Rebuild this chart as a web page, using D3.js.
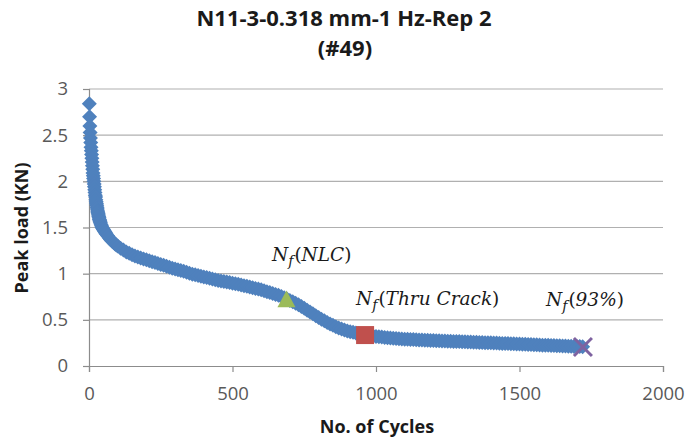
<!DOCTYPE html>
<html>
<head>
<meta charset="utf-8">
<script src="https://cdn.jsdelivr.net/npm/d3@7"></script>
<style>
  html, body { margin: 0; padding: 0; background: #fff; }
  svg { display: block; }
</style>
</head>
<body>
<svg id="chart" width="689" height="444"></svg>
<script>
// Cycle numbers of the sampled peak loads
const cycles = [
  1, 2, 3, 4, 5, 6, 7, 8, 9, 10, 11, 12, 13, 14, 15, 16, 17, 18, 19, 20,
  21, 22, 23, 24, 25, 26, 27, 28, 29, 30, 31, 32, 33, 34, 35, 36, 37, 38, 39, 40,
  42, 44, 46, 48, 50, 52, 54, 56, 58, 60, 65, 70, 75, 80, 85, 90, 95, 100,
  110, 120, 130, 140, 150, 160, 170, 180, 190, 200, 210, 220, 230, 240, 250, 260,
  270, 280, 290, 300, 310, 320, 330, 340, 350, 360, 370, 380, 390, 400, 410, 420,
  430, 440, 450, 460, 470, 480, 490, 500, 510, 520, 530, 540, 550, 560, 570, 580,
  590, 600, 610, 620, 630, 640, 650, 660, 670, 680, 690, 700, 710, 720, 730, 740,
  750, 760, 770, 780, 790, 800, 810, 820, 830, 840, 850, 860, 870, 880, 890, 900,
  910, 920, 930, 940, 950, 960, 970, 980, 990, 1000, 1010, 1020, 1030, 1040, 1050, 1060,
  1070, 1080, 1090, 1100, 1110, 1120, 1130, 1140, 1150, 1160, 1170, 1180, 1190, 1200,
  1210, 1220, 1230, 1240, 1250, 1260, 1270, 1280, 1290, 1300, 1310, 1320, 1330, 1340,
  1350, 1360, 1370, 1380, 1390, 1400, 1410, 1420, 1430, 1440, 1450, 1460, 1470, 1480,
  1490, 1500, 1510, 1520, 1530, 1540, 1550, 1560, 1570, 1580, 1590, 1600, 1610, 1620,
  1630, 1640, 1650, 1660, 1670, 1680, 1690, 1700, 1710, 1720
];
// Peak load (KN) at each sampled cycle
const peakLoad = [
  2.84, 2.70, 2.60, 2.53, 2.47, 2.42, 2.37, 2.33, 2.29, 2.25, 2.21, 2.17, 2.13, 2.09, 2.06, 2.03, 2.00, 1.97, 1.94, 1.91,
  1.88, 1.85, 1.83, 1.80, 1.78, 1.76, 1.74, 1.72, 1.70, 1.68, 1.665, 1.65, 1.635, 1.62, 1.605, 1.59, 1.58, 1.57, 1.56, 1.55,
  1.53, 1.515, 1.50, 1.49, 1.48, 1.47, 1.46, 1.45, 1.44, 1.43, 1.41, 1.39, 1.37, 1.355, 1.34, 1.325, 1.31, 1.30,
  1.275, 1.255, 1.235, 1.22, 1.205, 1.19, 1.18, 1.17, 1.16, 1.15, 1.14, 1.13, 1.12, 1.11, 1.10, 1.09,
  1.08, 1.07, 1.06, 1.05, 1.043, 1.035, 1.025, 1.015, 1.005, 0.995, 0.988, 0.98, 0.972, 0.965, 0.958, 0.95,
  0.943, 0.935, 0.927, 0.92, 0.915, 0.91, 0.903, 0.895, 0.89, 0.885, 0.878, 0.87, 0.863, 0.855, 0.848, 0.84,
  0.833, 0.825, 0.815, 0.805, 0.795, 0.785, 0.775, 0.765, 0.753, 0.74, 0.725, 0.71, 0.695, 0.68, 0.663, 0.645,
  0.625, 0.605, 0.585, 0.565, 0.545, 0.525, 0.507, 0.49, 0.472, 0.455, 0.44, 0.425, 0.412, 0.40, 0.39, 0.38,
  0.372, 0.365, 0.357, 0.35, 0.344, 0.338, 0.333, 0.328, 0.324, 0.32, 0.316, 0.313, 0.31, 0.307, 0.304, 0.301,
  0.298, 0.296, 0.293, 0.291, 0.289, 0.287, 0.286, 0.284, 0.282, 0.281, 0.279, 0.278, 0.276, 0.275,
  0.274, 0.273, 0.271, 0.27, 0.269, 0.268, 0.266, 0.265, 0.264, 0.263, 0.262, 0.26, 0.259, 0.258,
  0.257, 0.255, 0.254, 0.253, 0.252, 0.251, 0.249, 0.248, 0.247, 0.245, 0.244, 0.243, 0.241, 0.24,
  0.239, 0.237, 0.236, 0.235, 0.233, 0.232, 0.231, 0.229, 0.228, 0.226, 0.225, 0.224, 0.222, 0.221,
  0.22, 0.218, 0.217, 0.216, 0.215, 0.213, 0.212, 0.211, 0.21, 0.209
];

// Failure criteria points
const nlcPoint = { cycle: 688, load: 0.72 };
const thruCrackPoint = { cycle: 962, load: 0.335 };
const pct93Point = { cycle: 1721, load: 0.206 };

const xTicks = [0, 500, 1000, 1500, 2000];
const yTicks = [0, 0.5, 1, 1.5, 2, 2.5, 3];

const svg = d3.select("#chart");
const x = d3.scaleLinear().domain([0, 2000]).range([89, 663]);
const y = d3.scaleLinear().domain([0, 3]).range([366, 89]);

const axisColor = "#8c8c8c";
const gridColor = "#b0b0b0";
const textColor = "#595959";
const labelFont = "'Open Sans', 'Liberation Sans', Arial, sans-serif";

// horizontal gridlines
svg.append("g").selectAll("line")
  .data(yTicks.filter(d => d > 0))
  .join("line")
  .attr("x1", x(0)).attr("x2", x(2000))
  .attr("y1", d => y(d)).attr("y2", d => y(d))
  .attr("stroke", gridColor).attr("stroke-width", 1.2);

// y axis
const yAxis = svg.append("g")
  .attr("transform", `translate(${x(0)},0)`)
  .call(d3.axisLeft(y).tickValues(yTicks).tickSize(6).tickPadding(15)
    .tickFormat(d3.format("~g")));
yAxis.select(".domain").attr("stroke", axisColor).attr("stroke-width", 1.2);
yAxis.selectAll(".tick line").attr("stroke", axisColor).attr("stroke-width", 1.2);
yAxis.selectAll(".tick text")
  .attr("fill", textColor).style("font-size", "18.5px").style("font-family", labelFont);

// x axis
const xAxis = svg.append("g")
  .attr("transform", `translate(0,${y(0)})`)
  .call(d3.axisBottom(x).tickValues(xTicks).tickSize(6).tickPadding(15)
    .tickFormat(d3.format("d")));
xAxis.select(".domain").attr("stroke", axisColor).attr("stroke-width", 1.2);
xAxis.selectAll(".tick line").attr("stroke", axisColor).attr("stroke-width", 1.2);
xAxis.selectAll(".tick text")
  .attr("fill", textColor).style("font-size", "18.5px").style("font-family", labelFont);

// data series: diamond markers
const r = 7.5;
const diamond = `M0,${-r}L${r},0L0,${r}L${-r},0Z`;
svg.append("g").selectAll("path")
  .data(d3.zip(cycles, peakLoad))
  .join("path")
  .attr("d", diamond)
  .attr("transform", d => `translate(${x(d[0])},${y(d[1])})`)
  .attr("fill", "#4F81BD");

// NLC marker: triangle
const t = 9;
svg.append("path")
  .attr("d", `M0,${-t}L${t},${t * 0.85}L${-t},${t * 0.85}Z`)
  .attr("transform", `translate(${x(nlcPoint.cycle)},${y(nlcPoint.load)})`)
  .attr("fill", "#9BBB59");

// Through-crack marker: square
const s = 9;
svg.append("rect")
  .attr("x", x(thruCrackPoint.cycle) - s).attr("y", y(thruCrackPoint.load) - s)
  .attr("width", 2 * s).attr("height", 2 * s)
  .attr("fill", "#C0504D");

// 93% marker: cross
const c = 9;
svg.append("path")
  .attr("d", `M${-c},${-c}L${c},${c}M${-c},${c}L${c},${-c}`)
  .attr("transform", `translate(${x(pct93Point.cycle)},${y(pct93Point.load)})`)
  .attr("stroke", "#7E62A0").attr("stroke-width", 3).attr("fill", "none");

// annotation labels  N_f(...)
const mathFont = "'DejaVu Serif', 'Liberation Serif', serif";
function annot(px, py, inner) {
  const txt = svg.append("text")
    .attr("x", px).attr("y", py)
    .style("font-family", mathFont).style("font-size", "18.5px")
    .attr("fill", "#1a1a1a");
  txt.append("tspan").text("N").style("font-style", "italic");
  txt.append("tspan").text("f").style("font-style", "italic")
    .style("font-size", "14px").attr("dy", 5);
  txt.append("tspan").text("(").attr("dy", -5).attr("dx", 1);
  txt.append("tspan").text(inner).style("font-style", "italic");
  txt.append("tspan").text(")");
}
annot(272, 261, "NLC");
annot(356, 305, "Thru Crack");
annot(546, 306, "93%");

// titles
const titleFont = "'Open Sans', 'Liberation Sans', Arial, sans-serif";
svg.append("text")
  .attr("x", 344).attr("y", 26).attr("text-anchor", "middle")
  .style("font-family", titleFont).style("font-weight", "bold").style("font-size", "22px")
  .attr("fill", "#1a1a1a")
  .text("N11-3-0.318 mm-1 Hz-Rep 2");
svg.append("text")
  .attr("x", 345).attr("y", 56).attr("text-anchor", "middle")
  .style("font-family", titleFont).style("font-weight", "bold").style("font-size", "22px")
  .attr("fill", "#1a1a1a")
  .text("(#49)");

svg.append("text")
  .attr("x", 377).attr("y", 433).attr("text-anchor", "middle")
  .style("font-family", titleFont).style("font-weight", "bold").style("font-size", "18px")
  .attr("fill", "#1a1a1a")
  .text("No. of Cycles");

svg.append("text")
  .attr("transform", "translate(28,228) rotate(-90)")
  .attr("text-anchor", "middle")
  .style("font-family", titleFont).style("font-weight", "bold").style("font-size", "18px")
  .attr("fill", "#1a1a1a")
  .text("Peak load (KN)");
</script>
</body>
</html>
